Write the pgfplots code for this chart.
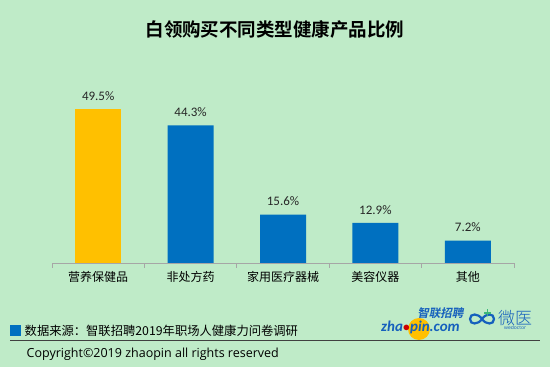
\documentclass[border=0pt]{standalone}
\usepackage{pgfplots}
\pgfplotsset{compat=1.18}
\usepackage{fontspec}
\setmainfont{Carlito}
\newfontfamily\cjk{Noto Sans CJK SC}
\newfontfamily\cjkb{Noto Sans CJK SC Bold}
\newfontfamily\cjkl{Noto Sans CJK SC Light}
\newfontfamily\osans{Open Sans}
\definecolor{bg}{HTML}{BFEBC8}
\definecolor{barblue}{HTML}{0070C0}
\definecolor{baryellow}{HTML}{FFC000}
\definecolor{logoblue}{HTML}{1560BD}
\definecolor{logogreen}{HTML}{3CB878}
\begin{document}
\begin{tikzpicture}[x=1pt,y=1pt]
\fill[bg] (0,0) rectangle (550,367);
\node[font=\cjkb\fontsize{18.5}{21}\selectfont] at (275,338) {白领购买不同类型健康产品比例};
\begin{axis}[
  at={(52pt,104pt)}, anchor=south west,
  scale only axis, width=462pt, height=200pt,
  xmin=-0.5, xmax=4.5, ymin=0, ymax=64.4,
  axis y line=none,
  axis x line*=bottom,
  axis line style={draw=gray!70, line width=0.8pt},
  xtick={0,1,2,3,4},
  xticklabels={营养保健品,非处方药,家用医疗器械,美容仪器,其他},
  xticklabel style={font=\cjk\fontsize{12}{14}\selectfont, yshift=-5pt},
  major tick length=0pt,
  extra x ticks={-0.5,0.5,1.5,2.5,3.5,4.5},
  extra x tick labels={},
  extra x tick style={major tick length=5pt, tick align=outside, tick style={draw=gray!70, line width=0.8pt}},
  ybar, bar width=46pt, bar shift=0pt,
  /pgf/number format/assume math mode=true,
  nodes near coords={\pgfmathprintnumber[fixed,precision=1,fixed zerofill,assume math mode=true]{\pgfplotspointmeta}\%},
  every node near coord/.append style={font=\fontsize{13}{15}\selectfont, color=black!85, yshift=5pt},
  clip=false,
]
\addplot[fill=baryellow, draw=none] coordinates {(0,49.5)};
\addplot[fill=barblue, draw=none] coordinates {(1,44.3) (2,15.6) (3,12.9) (4,7.2)};
\end{axis}
% footer
\fill[barblue] (10,31) rectangle (21,42);
\node[anchor=west, font=\cjk\fontsize{12.3}{14}\selectfont, inner sep=0pt] at (24.5,36) {数据来源：智联招聘2019年职场人健康力问卷调研};
\draw[black!75, line width=0.6pt] (10,26.3) -- (540,26.3);
\node[anchor=west, font=\osans\fontsize{12.5}{14}\selectfont, inner sep=0pt] at (26.5,13) {Copyright©2019 zhaopin all rights reserved};
% logos (decorative)
\fill[baryellow] (419,38) circle (11);
\node[anchor=west, font=\bfseries\itshape\fontsize{15}{16}\selectfont, text=logoblue, inner sep=0pt] at (381,40) {zha\textcolor{red!80!black}{$\bullet$}pin.com};
\node[anchor=west, font=\cjkb\fontsize{11.5}{13}\selectfont, text=logoblue, inner sep=0pt, xslant=0.2] at (418,54) {智联招聘};
\draw[logoblue, line width=2.2pt] (482,48) .. controls (478,54) and (470,54) .. (470,48) .. controls (470,42) and (478,42) .. (482,48) .. controls (486,54) and (494,54) .. (494,48) .. controls (494,42) and (486,42) .. (482,48);
\draw[logogreen, line width=1.6pt] (484,54) -- (491,54) (487.5,50.5) -- (487.5,57.5);
\node[anchor=west, font=\cjkl\fontsize{17}{18}\selectfont, text=logoblue, inner sep=0pt] at (498,49) {微医};
\node[anchor=west, font=\osans\fontsize{5}{6}\selectfont, text=logoblue, inner sep=0pt] at (504,39.5) {wedoctor};
\end{tikzpicture}
\end{document}
